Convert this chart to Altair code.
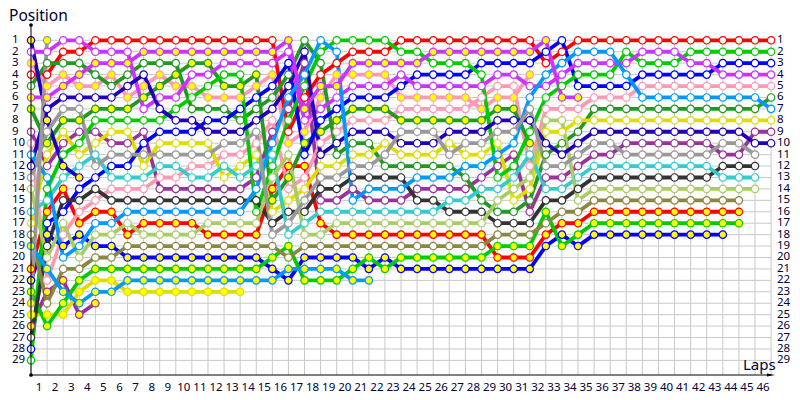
import altair as alt
import pandas as pd

# One character per car, upper case = white marker, lower case = yellow marker
# Listed bottom to top in drawing order
DRIVERS = list("KkRrPpDdYyBbGgCTOLMNnSsmAa")
LINE_COLORS = ["#993399", "#993399", "#ff0000", "#ff0000", "#ff99b3", "#ff99b3",
               "#229922", "#229922", "#dddd00", "#dddd00", "#0000ff", "#0000ff",
               "#00cc00", "#00cc00", "#333333", "#33cccc", "#888844", "#aacc66",
               "#cc33ff", "#2200bb", "#2200bb", "#0099ff", "#0099ff", "#cc33ff",
               "#999999", "#999999"]
FILL_COLORS = ["#ffffff" if d.isupper() else "#ffff00" for d in DRIVERS]

# Running order per lap; index in the string is position - 1, "." is an empty grid slot
LAP_ORDERS = [
    "nMpRDmd.KPSNAL.TYOs.rbgaykCBG",
    "aMDRpmNnAdYKSGTrBbCLsPkOyg",
    "MRDpmNAdYKGnTrCBLPbSOksgy",
    "MRDmpNAdKGYTnBCPrbSLOgysk",
    "RMmDpNdGKYTABCPrSLbOgysk",
    "RMmpDNdGYKABTPCrSLbOgys",
    "RMmDNpdGYKABTPCSLrObgsy",
    "RmDNpdMGKBAYTPCSrLObgsy",
    "RmDpdMNGBYATPKCSrLObgsy",
    "RmDdpMGNBYATPKCSrLObgsy",
    "RmdMpGDNBYAPTKCSrLObgsy",
    "RmdMGpDBNYAPTKCSLrObgsy",
    "RmMGdpDBNAPTYKCSLrObgsy",
    "RmMGdpBDNAPYTKCSLrObgsy",
    "RmMdpBDNAPYTKSCGLrObgs",
    "RmMpBDNPKSTGLrdYCAOgbs",
    "mMBDNSKGRpLrdPYCATgOsb",
    "DNKSGRmMpdBrPYACTLObsg",
    "SGDRmpMBdPNYACKTrLObsg",
    "GSRpmMBdPNDYACKTLrObsg",
    "GRmpMBdPNDYACKSTLrObgs",
    "GRmpMBdPNDYACSKTLrOgbs",
    "GRmpMBdPNYADCSKTLrObg",
    "RGmMBpPdANYDCSKTLrOgb",
    "RGmBMpPdANYDSKCTLrOgb",
    "RmGBMpPdANYDSKCTLrOgb",
    "RmGBMpPdNYADSKTCLrOgb",
    "RmGBMpPdNAYSDKTCLrOgb",
    "RmBGMPpdNAYSKTDCLrOgb",
    "RmBMPpdNAYSKGTLDCOgrb",
    "RmBMPpdNASKGTLYDCOgrb",
    "RmBpMSANGdTPLYDKCOgrb",
    "mBRSMGPLYNDAKTCgOrb",
    "BRSMGmPLYDNAKTCOrbg",
    "RSMGBmPYDNAKTCLOrgb",
    "RSMGBPDYNAKTCLOrgb",
    "RSMGBPDYNAKTCLOrgb",
    "RGMSBPDYNKATCLOrgb",
    "RMGBPSDYNKATCLOrgb",
    "RMGBPSDYNKATCLOrgb",
    "RMGBPSDYNKATCLOrgb",
    "RGMBPSDYNKATCLOrgb",
    "RGMBPSDYNKATCLOrgb",
    "RGBMPSDYNAKCTLOrgb",
    "RGBMPSDYNAKCTLOrg",
    "RGBMPSDYKNACTL",
    "RGBMPDSYKN",
]
POSITIONS = list(range(1, 30))
LAP_TICKS = list(range(0, 47))
LAP_LABELS = [str(i) for i in range(1, 47)]
TITLE_Y = "Position"
TITLE_X = "Laps"

rows = []
for lap, order in enumerate(LAP_ORDERS):
    for i, code in enumerate(order):
        if code != ".":
            rows.append({"lap": lap, "pos": i + 1, "car": code})
df = pd.DataFrame(rows)
df["rank"] = df["car"].map({d: i for i, d in enumerate(DRIVERS)})
df = df.sort_values(["rank", "lap"])

FONT = "Noto Sans"
xs = alt.Scale(domain=[0, 46.43], nice=False, zero=False)
ys = alt.Scale(domain=[-0.339, 30.28], nice=False, zero=False, reverse=True)
car_stroke = alt.Scale(domain=DRIVERS, range=LINE_COLORS)
car_fill = alt.Scale(domain=DRIVERS, range=FILL_COLORS)

hgrid = pd.DataFrame({"pos": POSITIONS, "a": 0, "b": 46})
vgrid = pd.DataFrame({"lap": LAP_TICKS, "pos": 1})

h = alt.Chart(hgrid).mark_rule(color="#c8c8c8", strokeWidth=1).encode(
    x=alt.X("a:Q", scale=xs, axis=None), x2="b:Q", y=alt.Y("pos:Q", scale=ys, axis=None))
v = alt.Chart(vgrid).mark_rule(color="#c8c8c8", strokeWidth=1).encode(
    x=alt.X("lap:Q", scale=xs, axis=None), y=alt.Y("pos:Q", scale=ys, axis=None), y2=alt.value(350))

one = pd.DataFrame({"k": [0]})
yaxis = alt.Chart(one).mark_rule(color="black", strokeWidth=1).encode(
    x=alt.value(0), y=alt.value(0), y2=alt.value(350))
xaxis = alt.Chart(one).mark_rule(color="black", strokeWidth=1).encode(
    y=alt.value(350), x=alt.value(0), x2=alt.value(740))
dot_top = alt.Chart(one).mark_point(filled=True, color="black", size=14, shape="circle", opacity=1).encode(
    x=alt.value(0), y=alt.value(0))
dot_bottom = alt.Chart(one).mark_point(filled=True, color="black", size=14, shape="circle", opacity=1).encode(
    x=alt.value(0), y=alt.value(350))
arrow = alt.Chart(one).mark_point(
    filled=True, color="black", size=40, opacity=1,
    shape="M-1.3,-0.45L1.3,0L-1.3,0.45Z").encode(x=alt.value(740), y=alt.value(350))

lines = alt.Chart(df).mark_line(strokeWidth=3.8, interpolate="linear").encode(
    x=alt.X("lap:Q", scale=xs, axis=None),
    y=alt.Y("pos:Q", scale=ys, axis=None),
    stroke=alt.Stroke("car:N", scale=car_stroke, legend=None),
    order="lap:Q",
)
points = alt.Chart(df).mark_point(size=55, strokeWidth=1.2, opacity=1, fillOpacity=1, filled=False).encode(
    x=alt.X("lap:Q", scale=xs, axis=None),
    y=alt.Y("pos:Q", scale=ys, axis=None),
    stroke=alt.Stroke("car:N", scale=car_stroke, legend=None),
    fill=alt.Fill("car:N", scale=car_fill, legend=None),
)

pos_df = pd.DataFrame({"pos": POSITIONS, "label": [str(p) for p in POSITIONS]})
left = alt.Chart(pos_df).mark_text(align="left", baseline="middle", font=FONT, fontSize=11.5, color="#000033").encode(
    x=alt.value(-19), y=alt.Y("pos:Q", scale=ys, axis=None), text="label:N")
right = alt.Chart(pos_df).mark_text(align="left", baseline="middle", font=FONT, fontSize=11.5, color="#000033").encode(
    x=alt.value(746), y=alt.Y("pos:Q", scale=ys, axis=None), text="label:N")
lap_df = pd.DataFrame({"lap": [i - 0.5 for i in range(1, 47)], "label": LAP_LABELS})
bottom = alt.Chart(lap_df).mark_text(align="center", baseline="middle", font=FONT, fontSize=11.5, color="#000033").encode(
    x=alt.X("lap:Q", scale=xs, axis=None), y=alt.value(363), text="label:N")
t1 = alt.Chart(pd.DataFrame({"t": [TITLE_Y]})).mark_text(align="left", baseline="middle", font=FONT, fontSize=15.5, color="#000033").encode(
    x=alt.value(-22), y=alt.value(-9), text="t:N")
t2 = alt.Chart(pd.DataFrame({"t": [TITLE_X]})).mark_text(align="left", baseline="middle", font=FONT, fontSize=15, color="#000033").encode(
    x=alt.value(712), y=alt.value(340), text="t:N")

chart = alt.layer(h, v, lines, points, yaxis, xaxis, dot_top, dot_bottom, arrow, left, right, bottom, t1, t2).properties(
    width=747, height=350,
    padding={"left": 23, "right": 14, "top": 17, "bottom": 20},
    autosize=alt.AutoSizeParams(type="none"),
).configure_view(stroke=None)

chart.save("out.html", embed_options={"renderer": "svg", "actions": False})
